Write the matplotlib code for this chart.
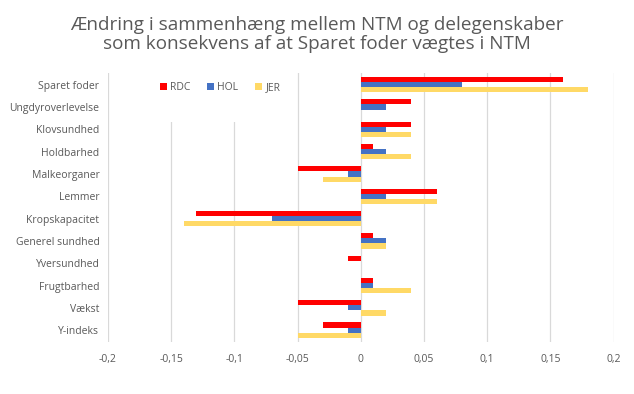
import matplotlib
matplotlib.use("Agg")
import matplotlib.pyplot as plt
from matplotlib.patches import Rectangle
import numpy as np

# Data
categories = ["Sparet foder", "Ungdyroverlevelse", "Klovsundhed", "Holdbarhed",
              "Malkeorganer", "Lemmer", "Kropskapacitet", "Generel sundhed",
              "Yversundhed", "Frugtbarhed", "Vækst", "Y-indeks"]
rdc = [0.16, 0.04, 0.04, 0.01, -0.05, 0.06, -0.13, 0.01, -0.01, 0.01, -0.05, -0.03]
hol = [0.08, 0.02, 0.02, 0.02, -0.01, 0.02, -0.07, 0.02, 0.0, 0.01, -0.01, -0.01]
jer = [0.18, 0.0, 0.04, 0.04, -0.03, 0.06, -0.14, 0.02, 0.0, 0.04, 0.02, -0.05]
xticks = [-0.2, -0.15, -0.1, -0.05, 0, 0.05, 0.1, 0.15, 0.2]
xtick_labels = ["-0,2", "-0,15", "-0,1", "-0,05", "0", "0,05", "0,1", "0,15", "0,2"]

plt.rcParams["font.family"] = ["Open Sans", "DejaVu Sans"]
TXT = "#595959"

fig = plt.figure(figsize=(6.34, 3.94), dpi=100)
ax = fig.add_axes([0.170, 0.132, 0.798, 0.683])

y = np.arange(len(categories))
h = 0.23
ax.barh(y - h, rdc, height=h, color="#FF0000", label="RDC", zorder=3)
ax.barh(y, hol, height=h, color="#4472C4", label="HOL", zorder=3)
ax.barh(y + h, jer, height=h, color="#FFD966", label="JER", zorder=3)

ax.set_xlim(-0.2, 0.2)
ax.set_ylim(11.53, -0.53)
ax.set_xticks(xticks)
ax.set_xticklabels(xtick_labels, color=TXT, fontsize=7.5)
ax.set_yticks(y)
ax.set_yticklabels(categories, color=TXT, fontsize=7.5)
ax.tick_params(length=0, pad=6)
ax.tick_params(axis="x", pad=9)
for s in ax.spines.values():
    s.set_visible(False)
ax.grid(axis="x", color="#D9D9D9", lw=0.9, zorder=0)

# legend box (white, covers the gridlines like in Excel)
ax.add_patch(Rectangle((0.014, 0.818), 0.35, 0.19, transform=ax.transAxes,
                       facecolor="white", edgecolor="none", zorder=2, clip_on=False))
leg = ax.legend(loc="center", bbox_to_anchor=(0.222, 0.944), ncol=3, frameon=False,
                fontsize=7.5, handlelength=0.7, handleheight=0.7, columnspacing=1.6,
                handletextpad=0.3)
leg.set_zorder(5)
for t in leg.get_texts():
    t.set_color(TXT)

fig.text(0.5, 0.96, "Ændring i sammenhæng mellem NTM og delegenskaber\nsom konsekvens af at Sparet foder vægtes i NTM",
         ha="center", va="top", fontsize=13.6, color=TXT, linespacing=1.1)

fig.savefig("out.png", dpi=100)
